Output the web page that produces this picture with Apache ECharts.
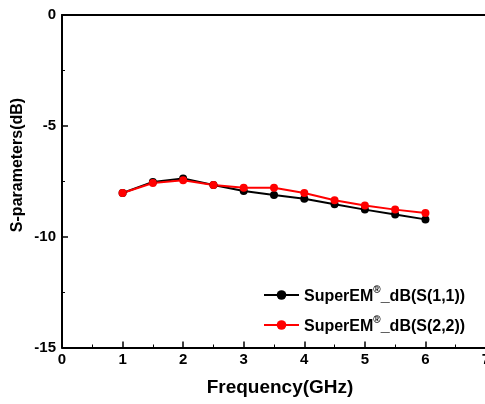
<!DOCTYPE html>
<html>
<head>
<meta charset="utf-8">
<script src="https://cdn.jsdelivr.net/npm/echarts@6/dist/echarts.min.js"></script>
<style>html,body{margin:0;padding:0;background:#fff}#c{width:485px;height:404px}</style>
</head>
<body>
<div id="c"></div>
<script>
var freq = [1, 1.5, 2, 2.5, 3, 3.5, 4, 4.5, 5, 5.5, 6];
var s11 = [-8.03, -7.53, -7.38, -7.67, -7.94, -8.12, -8.29, -8.54, -8.78, -9.0, -9.22];
var s22 = [-8.03, -7.58, -7.46, -7.67, -7.79, -7.79, -8.03, -8.36, -8.59, -8.78, -8.93];
var seriesNames = ['SuperEM®_dB(S(1,1))', 'SuperEM®_dB(S(2,2))'];
var xTitle = 'Frequency(GHz)';
var yTitle = 'S-parameters(dB)';

function pairs(xs, ys) { return xs.map(function (x, i) { return [x, ys[i]]; }); }

var FONT = '"Liberation Sans", Arial, sans-serif';
var chart = echarts.init(document.getElementById('c'), null, {renderer: 'canvas'});
var axisCommon = {
  axisLine: {show: true, onZero: false, lineStyle: {color: '#000', width: 2}},
  axisTick: {show: true, inside: true, length: 6, lineStyle: {color: '#000', width: 1.5}},
  minorTick: {show: true, splitNumber: 2, length: 3, lineStyle: {color: '#000', width: 1}},
  splitLine: {show: false},
  axisLabel: {color: '#000', fontFamily: FONT, fontWeight: 'bold', fontSize: 15}
};
chart.setOption({
  animation: false,
  backgroundColor: '#fff',
  grid: {left: 62, top: 15, width: 424, height: 332.5, containLabel: false, outerBoundsMode: 'none'},
  xAxis: [
    Object.assign({}, axisCommon, {
      type: 'value', min: 0, max: 7, interval: 1, position: 'bottom',
      name: xTitle, nameLocation: 'middle', nameGap: 31,
      nameTextStyle: {color: '#000', fontFamily: FONT, fontWeight: 'bold', fontSize: 19, padding: [0, 0, 0, 12]},
      axisLabel: Object.assign({}, axisCommon.axisLabel, {margin: 5})
    }),
    {
      type: 'value', min: 0, max: 7, interval: 1, position: 'top',
      axisLine: {show: true, onZero: false, lineStyle: {color: '#000', width: 2}},
      axisTick: {show: false}, axisLabel: {show: false}, splitLine: {show: false}
    }
  ],
  yAxis: Object.assign({}, axisCommon, {
    type: 'value', min: -15, max: 0, interval: 5,
    axisLabel: Object.assign({}, axisCommon.axisLabel, {margin: 6})
  }),
  graphic: [{
    type: 'text', x: 18, y: 165, rotation: Math.PI / 2,
    style: {text: yTitle, fill: '#000', font: 'bold 16px "Liberation Sans", Arial, sans-serif',
            align: 'center', verticalAlign: 'middle'}
  }],
  legend: {
    orient: 'vertical', left: 263, top: 285, padding: 0, itemWidth: 35, itemHeight: 12, itemGap: 10,
    data: seriesNames,
    formatter: function (name) {
      var parts = name.split('®');
      return '{a|' + parts[0] + '}{sup|®}{a|' + parts[1] + '}';
    },
    textStyle: {
      color: '#000', fontFamily: FONT, fontWeight: 'bold', fontSize: 16,
      rich: {
        a: {color: '#000', fontFamily: FONT, fontWeight: 'bold', fontSize: 16, padding: [4, 0, 0, 0]},
        sup: {color: '#000', fontFamily: FONT, fontWeight: 'bold', fontSize: 10, padding: [0, 0, 10, 0]}
      }
    }
  },
  series: [
    {
      name: seriesNames[0], type: 'line', data: pairs(freq, s11),
      symbol: 'circle', symbolSize: 8, color: '#000',
      lineStyle: {color: '#000', width: 2}, itemStyle: {color: '#000'}
    },
    {
      name: seriesNames[1], type: 'line', data: pairs(freq, s22),
      symbol: 'circle', symbolSize: 8, color: '#ff0000',
      lineStyle: {color: '#ff0000', width: 2}, itemStyle: {color: '#ff0000'}
    }
  ]
});
</script>
</body>
</html>
